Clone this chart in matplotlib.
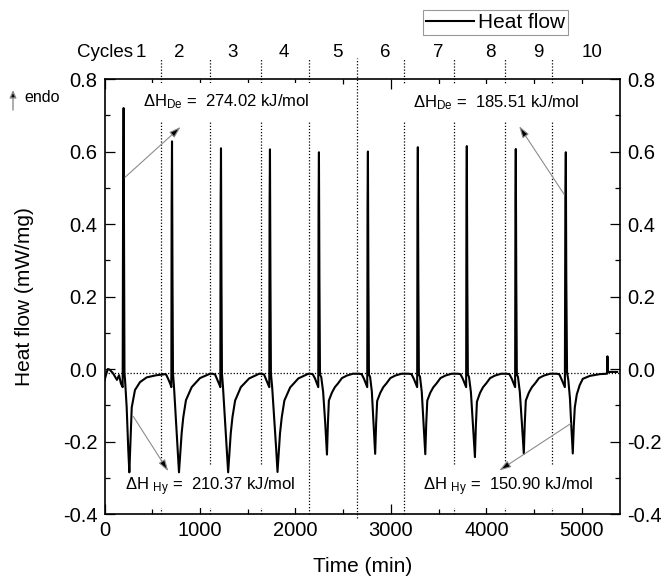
import numpy as np
import matplotlib
matplotlib.use('Agg')
import matplotlib.pyplot as plt
from matplotlib.ticker import MultipleLocator
import matplotlib.transforms as mtransforms

plt.rcParams['font.family'] = ['Liberation Sans', 'DejaVu Sans']
plt.rcParams['mathtext.fontset'] = 'custom'
plt.rcParams['mathtext.rm'] = 'Liberation Sans'
plt.rcParams['mathtext.default'] = 'regular'

# heat flow trace (time in min, mW/mg)
c1_t = [0, 20, 35, 55, 90, 130, 152, 172, 190, 194, 198, 200, 205, 209, 215, 232, 249, 260, 285, 319, 372, 442, 546, 616]
c1_hf = [-0.031, -0.012, 0.0, -0.002, -0.012, -0.030, -0.017, -0.040, -0.050, 0.40, 0.655, 0.72, 0.30, -0.012, -0.03, -0.105, -0.224, -0.285, -0.106, -0.058, -0.036, -0.023, -0.017, -0.015]
c2_t = [620, 645, 668, 690, 700, 703, 707, 712, 717, 728, 748, 766, 780, 808, 825, 853, 913, 1000, 1105]
c2_hf = [-0.014, -0.015, -0.028, -0.042, -0.050, 0.45, 0.628, 0.25, -0.012, -0.05, -0.14, -0.22, -0.285, -0.177, -0.133, -0.086, -0.050, -0.025, -0.013]
c3_t = [1130, 1158, 1181, 1203, 1213, 1216, 1220, 1225, 1230, 1241, 1262, 1281, 1295, 1322, 1340, 1368, 1428, 1515, 1620]
c3_hf = [-0.013, -0.015, -0.029, -0.043, -0.050, 0.45, 0.609, 0.25, -0.012, -0.05, -0.14, -0.22, -0.285, -0.178, -0.133, -0.087, -0.050, -0.026, -0.013]
c4_t = [1643, 1671, 1694, 1716, 1726, 1729, 1733, 1738, 1743, 1756, 1778, 1798, 1812, 1838, 1856, 1884, 1944, 2030, 2135]
c4_hf = [-0.013, -0.015, -0.030, -0.044, -0.050, 0.45, 0.606, 0.25, -0.012, -0.05, -0.14, -0.22, -0.284, -0.178, -0.134, -0.087, -0.051, -0.026, -0.013]
c5_t = [2150, 2180, 2205, 2228, 2239, 2242, 2246, 2251, 2257, 2270, 2290, 2312, 2330, 2340, 2350, 2382, 2413, 2445, 2487, 2539, 2602]
c5_hf = [-0.013, -0.014, -0.026, -0.042, -0.050, 0.45, 0.598, 0.25, -0.015, -0.022, -0.063, -0.15, -0.236, -0.150, -0.087, -0.065, -0.050, -0.040, -0.025, -0.018, -0.013]
c6_t = [2665, 2693, 2718, 2741, 2752, 2755, 2759, 2764, 2770, 2782, 2800, 2818, 2835, 2845, 2856, 2888, 2920, 2952, 2994, 3046, 3110]
c6_hf = [-0.013, -0.014, -0.027, -0.043, -0.050, 0.45, 0.600, 0.25, -0.015, -0.022, -0.062, -0.15, -0.234, -0.150, -0.088, -0.066, -0.050, -0.040, -0.025, -0.018, -0.013]
c7_t = [3185, 3215, 3240, 3264, 3275, 3278, 3282, 3287, 3293, 3305, 3323, 3342, 3360, 3370, 3381, 3413, 3445, 3477, 3519, 3571, 3635]
c7_hf = [-0.013, -0.014, -0.027, -0.043, -0.050, 0.45, 0.612, 0.25, -0.015, -0.022, -0.063, -0.15, -0.235, -0.150, -0.087, -0.065, -0.050, -0.040, -0.025, -0.018, -0.013]
c8_t = [3700, 3728, 3753, 3777, 3788, 3791, 3795, 3800, 3806, 3818, 3838, 3860, 3880, 3890, 3901, 3933, 3965, 3997, 4039, 4091, 4155]
c8_hf = [-0.013, -0.014, -0.027, -0.043, -0.050, 0.45, 0.615, 0.25, -0.015, -0.022, -0.064, -0.16, -0.243, -0.155, -0.090, -0.066, -0.050, -0.040, -0.025, -0.018, -0.013]
c9_t = [4212, 4241, 4266, 4290, 4301, 4304, 4308, 4313, 4319, 4331, 4350, 4372, 4392, 4402, 4413, 4445, 4477, 4509, 4551, 4603, 4667]
c9_hf = [-0.013, -0.014, -0.027, -0.043, -0.050, 0.45, 0.607, 0.25, -0.015, -0.022, -0.063, -0.15, -0.234, -0.150, -0.087, -0.065, -0.050, -0.040, -0.025, -0.018, -0.013]
c10_t = [4740, 4765, 4785, 4810, 4822, 4827, 4832, 4837, 4845, 4858, 4875, 4890, 4905, 4915, 4926, 4947, 4978, 5010, 5083, 5190, 5264, 5268, 5272, 5300, 5370]
c10_hf = [-0.013, -0.015, -0.027, -0.043, -0.050, 0.45, 0.598, 0.25, -0.010, -0.030, -0.080, -0.160, -0.233, -0.160, -0.106, -0.070, -0.044, -0.027, -0.019, -0.014, -0.013, 0.035, -0.008, -0.008, -0.008]

# cycle boundaries (min) and cycle numbers above the frame
cycle_edges = [592, 1105, 1639, 2141, 2644, 3136, 3660, 4194, 4686]
cycle_names = ['1', '2', '3', '4', '5', '6', '7', '8', '9', '10']
cycle_x = [382, 780, 1345, 1880, 2435, 2937, 3492, 4037, 4539, 5105]

# enthalpies
dH_de = ['274.02', '185.51']
dH_hy = ['210.37', '150.90']

t = np.concatenate([c1_t, c2_t, c3_t, c4_t, c5_t, c6_t, c7_t, c8_t, c9_t, c10_t])
hf = np.concatenate([c1_hf, c2_hf, c3_hf, c4_hf, c5_hf, c6_hf, c7_hf, c8_hf, c9_hf, c10_hf])

fig = plt.figure(figsize=(6.67, 5.76), dpi=100)
ax = fig.add_axes([0.1567, 0.1076, 0.7729, 0.7552])

line, = ax.plot(t, hf, color='black', lw=1.5, zorder=4, label='Heat flow')

dots = (0, (1, 1.5))
ax.axhline(-0.01, color='black', lw=0.9, ls=dots, zorder=2)
for i, xe in enumerate(cycle_edges):
    ybot = -0.41 if i == 4 else -0.4
    ax.plot([xe, xe], [ybot, 0.857], color='black', lw=0.9, ls=dots,
            clip_on=False, zorder=2)

trans = mtransforms.blended_transform_factory(ax.transData, ax.transAxes)
ax.text(300, 1.062, 'Cycles', transform=trans, ha='right', va='center', fontsize=13.5)
for name, xc in zip(cycle_names, cycle_x):
    ax.text(xc, 1.062, name, transform=trans, ha='center', va='center', fontsize=13.5)

box = dict(boxstyle='square,pad=0.6', fc='white', ec='none')
ax.text(403, 0.737, r'$\Delta$H$_{De}$ =  ' + dH_de[0] + ' kJ/mol', fontsize=12,
        ha='left', va='center', bbox=box, zorder=3)
ax.text(3230, 0.734, r'$\Delta$H$_{De}$ =  ' + dH_de[1] + ' kJ/mol', fontsize=12,
        ha='left', va='center', bbox=box, zorder=3)
ax.text(215, -0.325, r'$\Delta$H $_{Hy}$ =  ' + dH_hy[0] + ' kJ/mol', fontsize=12,
        ha='left', va='center', bbox=box, zorder=3)
ax.text(3333, -0.325, r'$\Delta$H $_{Hy}$ =  ' + dH_hy[1] + ' kJ/mol', fontsize=12,
        ha='left', va='center', bbox=box, zorder=3)

arr = dict(arrowstyle='-|>,head_length=0.7,head_width=0.22', fc='black', ec='0.55',
           lw=0.8, shrinkA=0, shrinkB=0)
ax.annotate('', xy=(798, 0.668), xytext=(215, 0.529), arrowprops=arr, zorder=5)
ax.annotate('', xy=(4343, 0.670), xytext=(4814, 0.482), arrowprops=arr, zorder=5)
ax.annotate('', xy=(668, -0.282), xytext=(302, -0.131), arrowprops=arr, zorder=5)
ax.annotate('', xy=(4134, -0.280), xytext=(4881, -0.151), arrowprops=arr, zorder=5)

ax.set_xlim(0, 5400)
ax.set_ylim(-0.4, 0.8)
ax.xaxis.set_major_locator(MultipleLocator(1000))
ax.xaxis.set_minor_locator(MultipleLocator(500))
ax.yaxis.set_major_locator(MultipleLocator(0.2))
ax.yaxis.set_minor_locator(MultipleLocator(0.1))
ax.yaxis.set_major_formatter(matplotlib.ticker.FormatStrFormatter('%.1f'))
ax.tick_params(which='both', direction='in', top=True, right=True,
               labelright=True, labelsize=14.5, width=0.9)
ax.tick_params(which='major', length=7, pad=5)
ax.tick_params(which='minor', length=3.5)
for s in ax.spines.values():
    s.set_linewidth(1.2)

ax.set_xlabel('Time (min)', fontsize=15, labelpad=12)
ax.set_ylabel('Heat flow (mW/mg)', fontsize=15, labelpad=21)

# endo marker
ax.annotate('', xy=(13 / 667, 1 - 90 / 576), xytext=(13 / 667, 1 - 110 / 576),
            xycoords='figure fraction', textcoords='figure fraction',
            arrowprops=dict(arrowstyle='-|>,head_length=0.45,head_width=0.2',
                            fc='black', ec='0.55', lw=1.0, shrinkA=0, shrinkB=0))
fig.text(24 / 667, 1 - 97 / 576, 'endo', fontsize=11.5, ha='left', va='center')

leg = fig.legend(handles=[line], loc='upper left', bbox_to_anchor=(423 / 667, 1 - 10 / 576),
                 fontsize=15, handlelength=2.3, handletextpad=0.2, borderpad=0.15,
                 borderaxespad=0, fancybox=False, frameon=True)
leg.get_frame().set_edgecolor('0.5')
leg.get_frame().set_linewidth(0.8)

fig.savefig('out.png', dpi=100)
